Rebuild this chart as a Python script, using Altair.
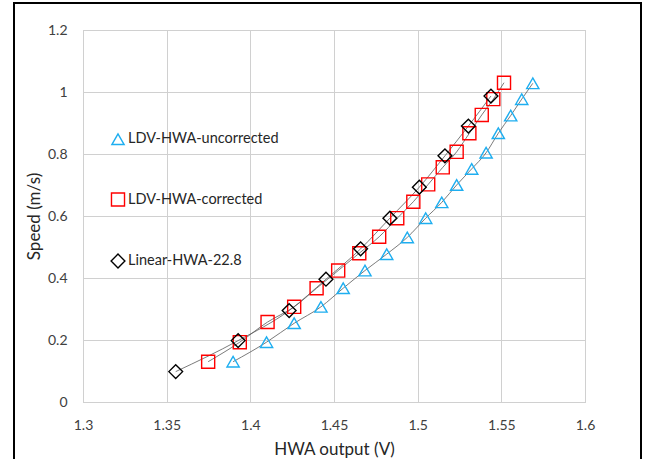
import altair as alt
import pandas as pd

# Series values
unc_x = [1.3897, 1.4097, 1.4262, 1.4422, 1.4555, 1.4685, 1.4815, 1.4938, 1.5048,
         1.5144, 1.5233, 1.5323, 1.5409, 1.5482, 1.5556, 1.5622, 1.5688]
unc_y = [0.130, 0.193, 0.254, 0.307, 0.367, 0.424, 0.477, 0.531, 0.593,
         0.644, 0.700, 0.752, 0.804, 0.867, 0.924, 0.977, 1.028]

cor_x = [1.3748, 1.3937, 1.4103, 1.4262, 1.4396, 1.4525, 1.4651, 1.4770, 1.4878,
         1.4974, 1.5063, 1.5150, 1.5233, 1.5309, 1.5383, 1.5452, 1.5516]
cor_y = [0.130, 0.193, 0.258, 0.307, 0.367, 0.424, 0.480, 0.533, 0.593,
         0.646, 0.702, 0.757, 0.807, 0.867, 0.926, 0.977, 1.030]

lin_x = [1.3554, 1.3927, 1.4232, 1.4452, 1.4659, 1.4834, 1.5010, 1.5163, 1.5303, 1.5438]
lin_y = [0.098, 0.198, 0.295, 0.396, 0.494, 0.593, 0.693, 0.794, 0.890, 0.987]

series_names = ["LDV-HWA-uncorrected", "LDV-HWA-corrected", "Linear-HWA-22.8"]
series_colors = ["#1eaef0", "#ff0000", "#000000"]
series_shapes = ["triangle-up", "square", "diamond"]

x_ticks = [1.3, 1.35, 1.4, 1.45, 1.5, 1.55, 1.6]
y_ticks = [0, 0.2, 0.4, 0.6, 0.8, 1.0, 1.2]

rows = []
for name, xs, ys in zip(series_names, [unc_x, cor_x, lin_x], [unc_y, cor_y, lin_y]):
    for i, (a, b) in enumerate(zip(xs, ys)):
        rows.append({"series": name, "x": a, "y": b, "order": i})
df = pd.DataFrame(rows)

FONT = "Lato"

xenc = alt.X("x:Q", scale=alt.Scale(domain=[1.3, 1.6], nice=False, zero=False),
             axis=alt.Axis(title="HWA output (V)", values=x_ticks, format="~g",
                           grid=True, gridColor="#d0d0d0", domain=False, ticks=False,
                           labelPadding=16, labelFontSize=14, labelFont=FONT,
                           labelColor="#404040", titleFont=FONT, titleFontSize=17,
                           titleFontWeight="normal", titleColor="#262626",
                           titlePadding=9, labelFlush=False))
yenc = alt.Y("y:Q", scale=alt.Scale(domain=[0, 1.2], nice=False),
             axis=alt.Axis(title="Speed (m/s)", values=y_ticks, format="~g",
                           grid=True, gridColor="#d0d0d0", domain=False, ticks=False,
                           labelPadding=16, labelFontSize=14, labelFont=FONT,
                           labelColor="#404040", titleFont=FONT, titleFontSize=17,
                           titleFontWeight="normal", titleColor="#262626",
                           titlePadding=4, labelFlush=False))

lines = alt.Chart(df).mark_line(interpolate="monotone", color="#595959",
                                strokeWidth=0.8).encode(
    x=xenc, y=yenc, detail="series:N", order="order:Q")

points = alt.Chart(df).mark_point(filled=False, strokeWidth=1.4, opacity=1).encode(
    x="x:Q", y="y:Q",
    color=alt.Color("series:N",
                    scale=alt.Scale(domain=series_names, range=series_colors),
                    legend=alt.Legend(title=None, orient="none", legendX=27, legendY=102,
                                      rowPadding=42, labelFont=FONT, labelFontSize=14.5,
                                      labelColor="#262626", symbolSize=100,
                                      symbolStrokeWidth=1.4, labelOffset=2)),
    shape=alt.Shape("series:N",
                    scale=alt.Scale(domain=series_names, range=series_shapes)),
    size=alt.Size("series:N", scale=alt.Scale(domain=series_names, range=[150, 190, 100]),
                  legend=None),
)

border = alt.Chart(df).mark_rect(filled=False, stroke="#000000", strokeWidth=1.3,
                                 clip=False).encode(
    x=alt.value(-69), x2=alt.value(558), y=alt.value(-27), y2=alt.value(470))

chart = alt.layer(border, lines, points).properties(
    width=502, height=372,
    autosize=alt.AutoSizeParams(type="none"),
    padding={"left": 83, "top": 30, "right": 64, "bottom": 57},
    background="white",
).configure_view(stroke="#bfbfbf", strokeWidth=1)

chart.save("out.html", embed_options={"renderer": "svg", "actions": False})
